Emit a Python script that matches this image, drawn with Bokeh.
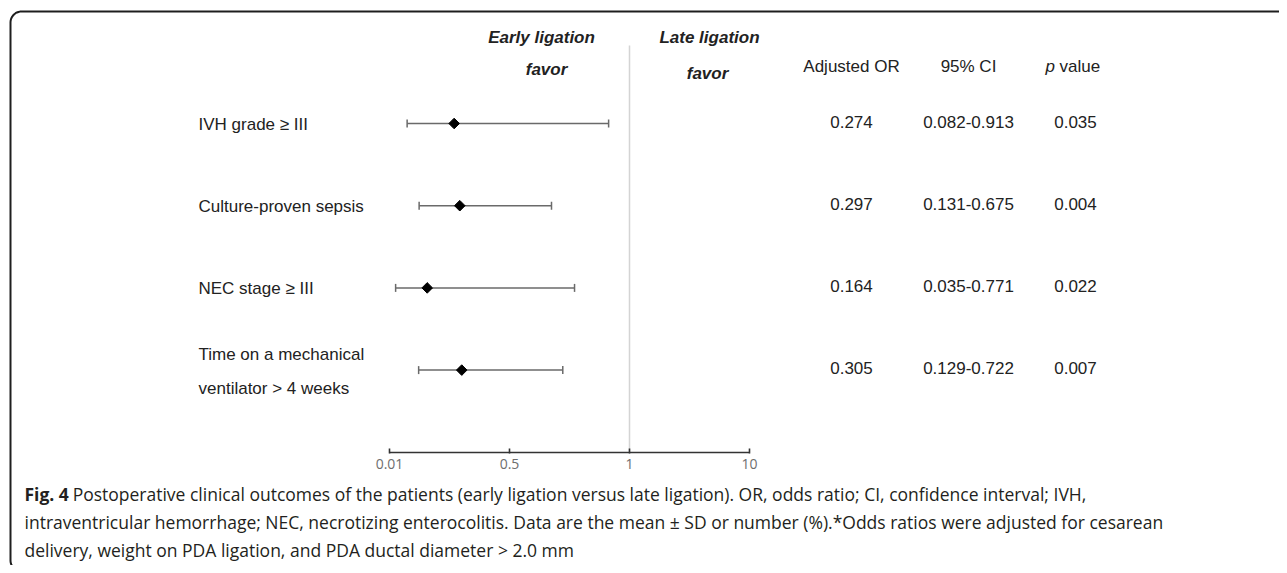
import numpy as np
from bokeh.plotting import figure
from bokeh.models import (ColumnDataSource, Range1d, LinearAxis, FixedTicker,
                          Whisker, TeeHead, Label, PolyAnnotation)
from bokeh.core.properties import value
from bokeh.embed import file_html
from bokeh.resources import INLINE

# ---------------- data ----------------
outcomes = ["IVH grade \u2265 III", "Culture-proven sepsis", "NEC stage \u2265 III",
            "Time on a mechanical\nventilator > 4 weeks"]
adj_or = [0.274, 0.297, 0.164, 0.305]
ci_low = [0.082, 0.131, 0.035, 0.129]
ci_high = [0.913, 0.675, 0.771, 0.722]
p_values = ["0.035", "0.004", "0.022", "0.007"]
tick_values = [0.01, 0.5, 1, 10]
tick_labels = ["0.01", "0.5", "1", "10"]
ref_value = 1

caption_bold = "Fig. 4"
caption_lines = [
    "Postoperative clinical outcomes of the patients (early ligation versus late ligation). OR, odds ratio; CI, confidence interval; IVH,",
    "intraventricular hemorrhage; NEC, necrotizing enterocolitis. Data are the mean \u00b1 SD or number (%).*Odds ratios were adjusted for cesarean",
    "delivery, weight on PDA ligation, and PDA ductal diameter > 2.0 mm",
]

# ---------------- scale (axis with equally spaced ticks) ----------------
tick_pos = list(range(len(tick_values)))


def pos(v):
    return np.interp(v, tick_values, tick_pos)


rows = list(range(len(outcomes)))
src = ColumnDataSource(dict(
    y=rows,
    est=pos(adj_or),
    lo=pos(ci_low),
    hi=pos(ci_high),
    label=outcomes,
    or_txt=["%.3f" % v for v in adj_or],
    ci_txt=["%.3f-%.3f" % (a, b) for a, b in zip(ci_low, ci_high)],
    p_txt=p_values,
))

W, H = 1279, 565
X0, XS = 389, 120     # px of first tick, px per tick step
Y0, YS = 123, 82.2    # px of first row, px per row
AXIS_PX = 452


def dx(px):
    return (px - X0) / XS


def dy(py):
    return (py - Y0) / YS


p = figure(width=W, height=H, output_backend="svg", toolbar_location=None,
           x_axis_location=None, y_axis_location=None,
           x_range=Range1d(dx(0), dx(W)),
           y_range=Range1d(dy(H), dy(0)),
           min_border_left=0, min_border_right=0, min_border_top=0,
           min_border_bottom=0)
p.outline_line_color = None
p.xgrid.visible = False
p.ygrid.visible = False
p.background_fill_color = "white"
p.border_fill_color = "white"

# axis
ax = LinearAxis(ticker=FixedTicker(ticks=tick_pos),
                major_label_overrides={i: t for i, t in zip(tick_pos, tick_labels)},
                fixed_location=dy(AXIS_PX))
ax.bounds = (tick_pos[0], tick_pos[-1])
ax.axis_line_color = "#333333"
ax.axis_line_width = 1.6
ax.major_tick_line_color = "#333333"
ax.major_tick_line_width = 1.6
ax.major_tick_in = 4
ax.major_tick_out = 1
ax.minor_tick_line_color = None
ax.major_label_text_font = "Open Sans"
ax.major_label_text_font_size = "14px"
ax.major_label_text_color = "#6e6e6e"
ax.major_label_standoff = 5
p.add_layout(ax, "below")

# reference line at OR = 1
p.segment(x0=[pos(ref_value)], x1=[pos(ref_value)], y0=[dy(45)], y1=[dy(AXIS_PX)],
          line_color="#d4d4d4", line_width=1.5)

# confidence intervals
wh = Whisker(source=src, base="y", lower="lo", upper="hi", dimension="width",
             line_color="#6a6a6a", line_width=1.5,
             lower_head=TeeHead(size=8, line_color="#6a6a6a", line_width=1.5),
             upper_head=TeeHead(size=8, line_color="#6a6a6a", line_width=1.5))
p.add_layout(wh)

# point estimates
p.scatter(x="est", y="y", source=src, marker="square", angle=np.pi / 4, size=7.5,
          fill_color="black", line_color="black")

# row labels
p.text(x=dx(198), y="y", text="label", source=src, text_font=value("Liberation Sans"),
       text_font_size="17px", text_color="#222222", text_align="left",
       text_baseline="middle", text_line_height=1.8, y_offset=1)

# table columns
col_x = [851, 968, 1075]
for cx, field in zip(col_x, ["or_txt", "ci_txt", "p_txt"]):
    p.text(x=dx(cx), y="y", text=field, source=src, y_offset=-2,
           text_font=value("Liberation Sans"), text_font_size="17px",
           text_color="#222222", text_align="center", text_baseline="middle")


def lab(px, py, text, style="normal", align="center", size="17px",
        font="Liberation Sans", color="#222222"):
    p.add_layout(Label(x=px, y=H - py, x_units="screen", y_units="screen",
                       text=text, text_font=font, text_font_size=size,
                       text_font_style=style, text_color=color,
                       text_align=align, text_baseline="middle"))


# headers
lab(541, 37, "Early ligation", "bold italic")
lab(546, 69, "favor", "bold italic")
lab(709, 37, "Late ligation", "bold italic")
lab(707, 73, "favor", "bold italic")
lab(col_x[0], 66, "Adjusted OR")
lab(col_x[1], 66, "95% CI")
lab(1045, 66, "p", "italic", align="left")
lab(1059, 66, "value", align="left")

# caption
cfs = 17.5
cap_y = [493, 521, 549]
lab(24, cap_y[0], caption_bold, "bold", align="left", size="%.1fpx" % cfs,
    font="Open Sans", color="#231f20")
lab(24 + 2.75 * cfs, cap_y[0], caption_lines[0], align="left", size="%.1fpx" % cfs,
    font="Open Sans", color="#231f20")
lab(24, cap_y[1], caption_lines[1], align="left", size="%.1fpx" % cfs,
    font="Open Sans", color="#231f20")
lab(24, cap_y[2], caption_lines[2], align="left", size="%.1fpx" % cfs,
    font="Open Sans", color="#231f20")

# rounded frame around the figure
r = 11
lx, ty, by, rx = 10, 11, 571, 1320
t1 = np.linspace(np.pi, 1.5 * np.pi, 12)
t2 = np.linspace(0.5 * np.pi, np.pi, 12)
xs = ([lx, lx] + list(lx + r + r * np.cos(t1)) + [rx, rx] +
      list(lx + r + r * np.cos(t2)))
ys = ([by - r, ty + r] + list(ty + r + r * np.sin(t1)) + [ty, by] +
      list(by - r + r * np.sin(t2)))
xs = [float(v) for v in xs]
ys = [float(H - v) for v in ys]
p.add_layout(PolyAnnotation(xs=xs, ys=ys, xs_units="screen", ys_units="screen",
                            fill_color=None, fill_alpha=0, line_color="#1e1e1e",
                            line_alpha=1.0, line_width=2))

open("out.html", "w").write(file_html(p, INLINE))
